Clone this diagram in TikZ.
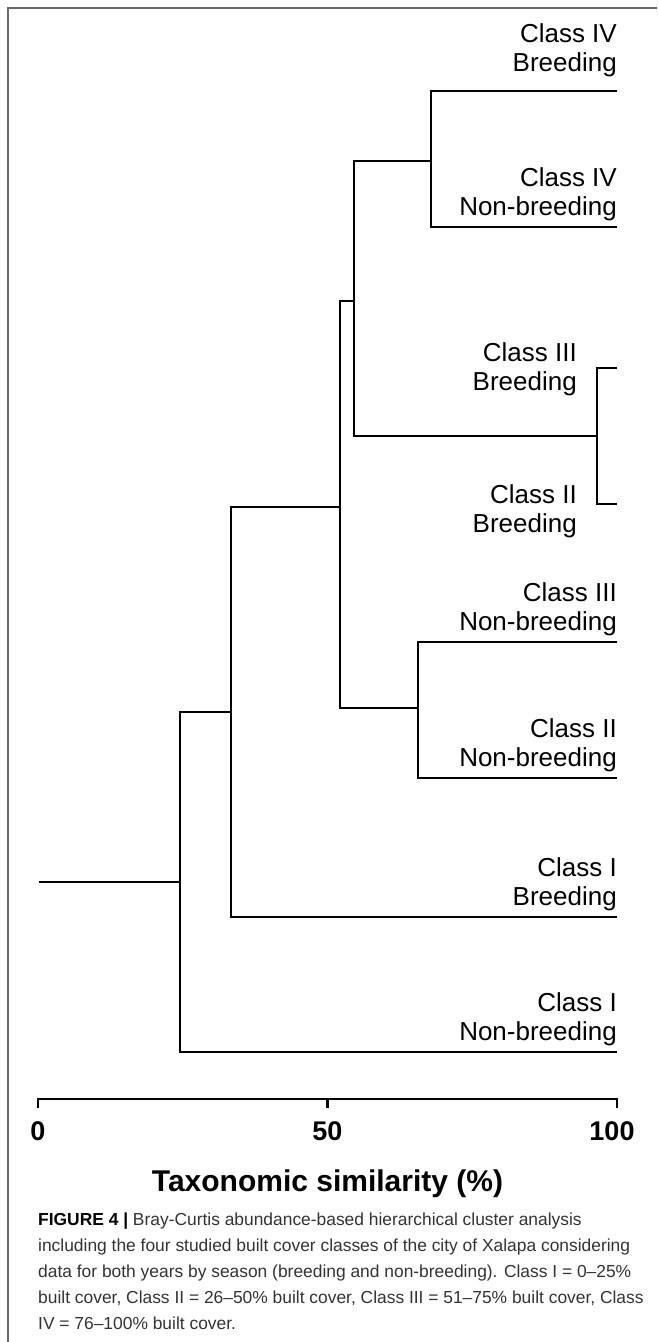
\documentclass[tikz,border=0pt]{standalone}
\usepackage{fontspec}
\setmainfont{Liberation Sans}
\definecolor{framegray}{HTML}{6A6A6A}
\definecolor{captext}{HTML}{333333}
\begin{document}
\begin{tikzpicture}[x=1pt,y=-1pt,
  branch/.style={line width=2.3pt, line join=miter, black},
  leaflab/.style={anchor=base east, inner sep=0pt, font=\fontsize{26}{29}\selectfont},
  ticklab/.style={anchor=base, inner sep=0pt, font=\fontsize{27}{30}\selectfont\bfseries},
  axtitle/.style={anchor=base, inner sep=0pt, font=\fontsize{30}{33}\selectfont\bfseries},
  capline/.style={anchor=base west, inner sep=0pt, text=captext, font=\fontsize{17.4}{26}\selectfont}]
\useasboundingbox (0,0) rectangle (657,1342);
% frame
\draw[framegray, line width=1.3pt] (8,1342) -- (8,8) -- (657,8);
% leaves (right ends)
\coordinate (l1) at (617,91);
\coordinate (l2) at (617,227);
\coordinate (l3) at (617,368);
\coordinate (l4) at (617,504);
\coordinate (l5) at (617,642);
\coordinate (l6) at (617,778);
\coordinate (l7) at (617,917);
\coordinate (l8) at (617,1052);
% internal nodes
\coordinate (n1) at (431,161);
\coordinate (n2) at (597,436);
\coordinate (n3) at (354,301);
\coordinate (n4) at (418,708);
\coordinate (n5) at (340,507);
\coordinate (n6) at (231,712);
\coordinate (n7) at (180,882);
\coordinate (root) at (39,882);
% branches
\draw[branch] (l1) -| (n1) |- (l2);
\draw[branch] (l3) -| (n2) |- (l4);
\draw[branch] (n1) -| (n3) |- (n2);
\draw[branch] (l5) -| (n4) |- (l6);
\draw[branch] (n3) -| (n5) |- (n4);
\draw[branch] (n5) -| (n6) |- (l7);
\draw[branch] (n6) -| (n7) |- (l8);
\draw[branch] (root) -- (n7);
% leaf labels
\node[leaflab] (a1) at (617,42) {Class IV};
\node[leaflab] (b1) at (617,71) {Breeding};
\node[leaflab] (a2) at (617,186) {Class IV};
\node[leaflab] (b2) at (617,215) {Non-breeding};
\node[leaflab] (a3) at (577,361) {Class III};
\node[leaflab] (b3) at (577,390) {Breeding};
\node[leaflab] (a4) at (577,503) {Class II};
\node[leaflab] (b4) at (577,532) {Breeding};
\node[leaflab] (a5) at (617,601) {Class III};
\node[leaflab] (b5) at (617,630) {Non-breeding};
\node[leaflab] (a6) at (617,737) {Class II};
\node[leaflab] (b6) at (617,766) {Non-breeding};
\node[leaflab] (a7) at (617,876) {Class I};
\node[leaflab] (b7) at (617,905) {Breeding};
\node[leaflab] (a8) at (617,1011) {Class I};
\node[leaflab] (b8) at (617,1040) {Non-breeding};
% axis
\coordinate (ax0) at (38,1099);
\coordinate (ax50) at (327.5,1099);
\coordinate (ax100) at (617,1099);
\coordinate (tk0) at (38,1108);
\coordinate (tk50) at (327.5,1108);
\coordinate (tk100) at (617,1108);
\draw[branch] (tk0) -- (ax0) -- (ax100) -- (tk100);
\draw[branch] (ax50) -- (tk50);
\node[ticklab] (v0) at (38,1140) {0};
\node[ticklab] (v50) at (327.5,1140) {50};
\node[ticklab] (v100) at (612,1140) {100};
\node[axtitle] (xt) at (327.5,1191) {Taxonomic similarity (\%)};
% caption
\node[capline] (c1) at (38,1225) {\textbf{\color{black}FIGURE 4 |} Bray-Curtis abundance-based hierarchical cluster analysis};
\node[capline] (c2) at (38,1251) {including the four studied built cover classes of the city of Xalapa considering};
\node[capline] (c3) at (38,1277) {data for both years by season (breeding and non-breeding). Class I = 0–25\%};
\node[capline] (c4) at (38,1303) {built cover, Class II = 26–50\% built cover, Class III = 51–75\% built cover, Class};
\node[capline] (c5) at (38,1329) {IV = 76–100\% built cover.};
\end{tikzpicture}
\end{document}
